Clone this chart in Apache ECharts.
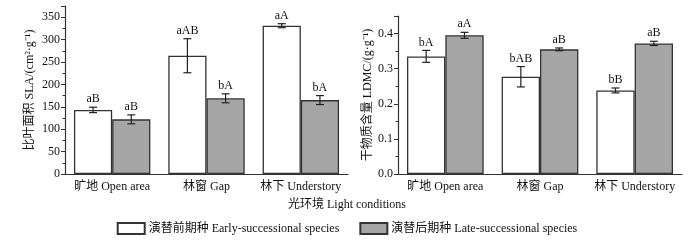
<!DOCTYPE html>
<html>
<head>
<meta charset="utf-8">
<script src="https://cdn.jsdelivr.net/npm/echarts@6/dist/echarts.min.js"></script>
<style>
html, body { margin: 0; padding: 0; background: #fff; }
#chart { width: 694px; height: 244px; }
</style>
</head>
<body>
<div id="chart"></div>
<script>
// 光环境
var categories = ['旷地 Open area', '林窗 Gap', '林下 Understory']
var seriesNames = ['演替前期种 Early-successional species', '演替后期种 Late-successional species']

// 比叶面积 SLA
var slaEarly = [143, 264, 331]
var slaEarlyErr = [6, 38, 4.5]
var slaEarlyLbl = ['aB', 'aAB', 'aA']
var slaLate = [122, 169, 165]
var slaLateErr = [10, 10, 10]
var slaLateLbl = ['aB', 'bA', 'bA']

// 干物质含量 LDMC
var ldmcEarly = [0.335, 0.277, 0.238]
var ldmcEarlyErr = [0.017, 0.029, 0.007]
var ldmcEarlyLbl = ['bA', 'bAB', 'bB']
var ldmcLate = [0.395, 0.355, 0.372]
var ldmcLateErr = [0.0085, 0.004, 0.006]
var ldmcLateLbl = ['aA', 'aB', 'aB']

var slaTicks = [0, 375, 50]
var ldmcTicks = [0, 0.45, 0.1]

var FONT = '"Liberation Serif", "Noto Sans CJK SC", serif'
var LINE = '#333'
var CAT_GAP = 0.19

function errData (vals, errs, lbls) {
  return vals.map(function (v, i) { return [i, v, errs[i], lbls[i]] })
}

// 误差线 + 显著性字母
function errSeries (gridIdx, data, side) {
  return {
    type: 'custom',
    xAxisIndex: gridIdx,
    yAxisIndex: gridIdx,
    data: data,
    z: 5,
    silent: true,
    renderItem: function (params, api) {
      var idx = api.value(0)
      var val = api.value(1)
      var err = api.value(2)
      var c = api.coord([idx, val])
      var barW = api.size([1, 0])[0] * (1 - CAT_GAP) / 2
      var x = c[0] + side * barW / 2
      var yTop = api.coord([idx, val + err])[1]
      var yBot = api.coord([idx, val - err])[1]
      var cap = 4
      var st = { stroke: '#222', lineWidth: 1.2 }
      return {
        type: 'group',
        children: [
          { type: 'line', shape: { x1: x, y1: yTop, x2: x, y2: yBot }, style: st },
          { type: 'line', shape: { x1: x - cap, y1: yTop, x2: x + cap, y2: yTop }, style: st },
          { type: 'line', shape: { x1: x - cap, y1: yBot, x2: x + cap, y2: yBot }, style: st },
          {
            type: 'text',
            style: {
              x: x, y: yTop - 2, text: data[params.dataIndex][3],
              align: 'center', verticalAlign: 'bottom',
              font: '12px ' + FONT, fill: '#111'
            }
          }
        ]
      }
    }
  }
}

function barSeries (gridIdx, name, vals, fill) {
  return {
    type: 'bar',
    name: name,
    xAxisIndex: gridIdx,
    yAxisIndex: gridIdx,
    data: vals,
    barGap: '0%',
    barCategoryGap: (CAT_GAP * 100) + '%',
    itemStyle: { color: fill, borderColor: LINE, borderWidth: 1.3 }
  }
}

function xAxis (gridIdx) {
  return {
    type: 'category',
    gridIndex: gridIdx,
    data: categories,
    axisLine: { lineStyle: { color: LINE, width: 1.2 } },
    axisTick: { show: false },
    axisLabel: { color: '#111', fontSize: 12, fontFamily: FONT, margin: 7, interval: 0 }
  }
}

function yAxis (gridIdx, ticks, name, gap, fmt) {
  return {
    type: 'value',
    gridIndex: gridIdx,
    min: ticks[0],
    max: ticks[1],
    interval: ticks[2],
    name: name,
    nameLocation: 'middle',
    nameGap: gap,
    nameTextStyle: { color: '#111', fontSize: 12, fontFamily: FONT },
    splitLine: { show: false },
    axisLine: { show: true, lineStyle: { color: LINE, width: 1.2 } },
    axisTick: { show: true, length: 4, lineStyle: { color: LINE } },
    minorTick: { show: true, splitNumber: 2, length: 2.5, lineStyle: { color: LINE } },
    axisLabel: { color: '#111', fontSize: 12, fontFamily: FONT, margin: 5, formatter: fmt,
      showMaxLabel: false }
  }
}

var chart = echarts.init(document.getElementById('chart'))
var option = {
  animation: false,
  textStyle: { fontFamily: FONT },
  grid: [
    { left: 65, right: 346, top: 6, bottom: 70 },
    { left: 398, right: 12, top: 16, bottom: 70 }
  ],
  xAxis: [xAxis(0), xAxis(1)],
  yAxis: [
    yAxis(0, slaTicks, '比叶面积 SLA/(cm²·g⁻¹)', 29, function (v) { return v }),
    yAxis(1, ldmcTicks, '干物质含量 LDMC/(g·g⁻¹)', 24, function (v) { return v.toFixed(1) })
  ],
  legend: {
    data: seriesNames,
    left: 'center',
    top: 217,
    icon: 'rect',
    itemWidth: 27,
    itemHeight: 11,
    itemGap: 20,
    textStyle: { color: '#111', fontSize: 12, fontFamily: FONT, padding: [0, 0, 0, -1] }
  },
  graphic: [
    {
      type: 'text', left: 'center', top: 199,
      style: { text: '光环境 Light conditions', font: '12px ' + FONT, fill: '#111' }
    }
  ],
  series: [
    barSeries(0, seriesNames[0], slaEarly, '#ffffff'),
    barSeries(0, seriesNames[1], slaLate, '#a6a6a6'),
    barSeries(1, seriesNames[0], ldmcEarly, '#ffffff'),
    barSeries(1, seriesNames[1], ldmcLate, '#a6a6a6'),
    errSeries(0, errData(slaEarly, slaEarlyErr, slaEarlyLbl), -1),
    errSeries(0, errData(slaLate, slaLateErr, slaLateLbl), 1),
    errSeries(1, errData(ldmcEarly, ldmcEarlyErr, ldmcEarlyLbl), -1),
    errSeries(1, errData(ldmcLate, ldmcLateErr, ldmcLateLbl), 1)
  ]
}
chart.setOption(option)
</script>
</body>
</html>
